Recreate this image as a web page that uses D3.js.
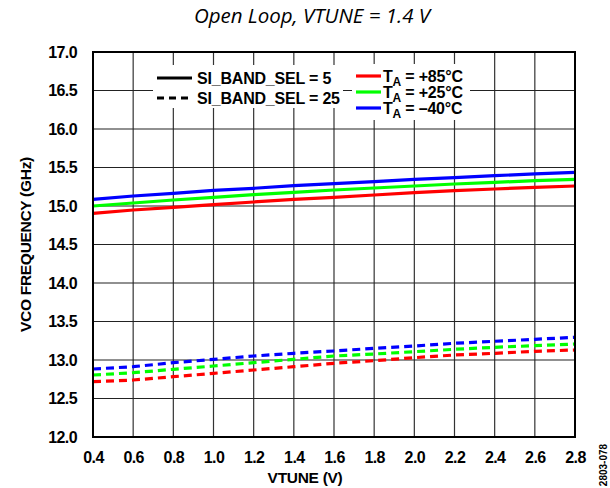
<!DOCTYPE html>
<html><head><meta charset="utf-8">
<script src="https://cdn.jsdelivr.net/npm/d3@7"></script>
<style>body{margin:0;background:#fff}svg{display:block}</style>
</head><body>
<script>
const vtune = [0.4,0.6,0.8,1.0,1.2,1.4,1.6,1.8,2.0,2.2,2.4,2.6,2.8];
const sel5_85  = [14.905,14.948,14.983,15.017,15.052,15.087,15.113,15.143,15.173,15.199,15.221,15.243,15.260];
const sel5_25  = [15.000,15.039,15.078,15.113,15.147,15.178,15.208,15.234,15.260,15.286,15.307,15.329,15.346];
const sel5_m40 = [15.087,15.130,15.165,15.204,15.230,15.264,15.290,15.316,15.346,15.368,15.394,15.416,15.437];
const sel25_85  = [12.718,12.740,12.783,12.827,12.870,12.913,12.957,12.991,13.030,13.065,13.087,13.113,13.130];
const sel25_25  = [12.805,12.835,12.879,12.922,12.965,13.009,13.052,13.078,13.108,13.139,13.165,13.186,13.208];
const sel25_m40 = [12.883,12.913,12.965,13.009,13.052,13.087,13.117,13.152,13.182,13.217,13.243,13.269,13.295];
const xTicks = [0.4,0.6,0.8,1.0,1.2,1.4,1.6,1.8,2.0,2.2,2.4,2.6,2.8];
const yTicks = [12.0,12.5,13.0,13.5,14.0,14.5,15.0,15.5,16.0,16.5,17.0];
const tempLabels = ["+85°C","+25°C","\u201340°C"];
const tempColors = ["#ff0000","#00ff00","#0000ff"];
const selLabels = ["SI_BAND_SEL = 5","SI_BAND_SEL = 25"];

const W=610,H=488;
const m={l:93,r:575,t:52,b:437};
const svg=d3.select("body").append("svg").attr("width",W).attr("height",H);
const x=d3.scaleLinear().domain([0.4,2.8]).range([m.l,m.r]);
const y=d3.scaleLinear().domain([12,17]).range([m.b,m.t]);

// title
svg.append("text").attr("x",312).attr("y",23).attr("text-anchor","middle")
  .attr("font-family","Open Sans, sans-serif").attr("font-style","italic").attr("font-size",20.5)
  .text("Open Loop, VTUNE = 1.4 V");

// grid
const g=svg.append("g");
g.selectAll(".vg").data(xTicks).join("line").attr("x1",d=>x(d)).attr("x2",d=>x(d))
  .attr("y1",m.t).attr("y2",m.b).attr("stroke","#333").attr("stroke-width",1.2);
g.selectAll(".hg").data(yTicks).join("line").attr("y1",d=>y(d)).attr("y2",d=>y(d))
  .attr("x1",m.l).attr("x2",m.r).attr("stroke","#222").attr("stroke-width",1.2);

// axes labels via d3 axes
const fontB="Liberation Sans, Arial, sans-serif";
const xa=svg.append("g").attr("transform",`translate(0,${m.b})`)
  .call(d3.axisBottom(x).tickValues(xTicks).tickFormat(d3.format(".1f")).tickSize(0).tickPadding(15));
const ya=svg.append("g").attr("transform",`translate(${m.l},0)`)
  .call(d3.axisLeft(y).tickValues(yTicks).tickFormat(d3.format(".1f")).tickSize(0).tickPadding(16));
[xa,ya].forEach(a=>{a.select(".domain").remove();
  a.selectAll("text").attr("font-family",fontB).attr("font-weight","bold").attr("font-size",16)
   .attr("letter-spacing",-0.6).attr("fill","#000");});

svg.append("text").attr("x",305).attr("y",483).attr("text-anchor","middle")
  .attr("font-family",fontB).attr("font-weight","bold").attr("font-size",15.5).attr("letter-spacing",-0.3).text("VTUNE (V)");
svg.append("text").attr("transform",`translate(31,${(m.t+m.b)/2}) rotate(-90)`).attr("text-anchor","middle")
  .attr("font-family",fontB).attr("font-weight","bold").attr("font-size",15.5).attr("letter-spacing",-0.3).text("VCO FREQUENCY (GHz)");
svg.append("text").attr("transform",`translate(607,465) rotate(-90)`).attr("text-anchor","middle")
  .attr("font-family",fontB).attr("font-weight","bold").attr("font-size",10).text("2803-078");

// legend backgrounds
svg.append("rect").attr("x",153).attr("y",65).attr("width",190).attr("height",43).attr("fill","#fff");
svg.append("rect").attr("x",352).attr("y",64).attr("width",118).attr("height",56).attr("fill","#fff");

// data lines
const line=d3.line().x((d,i)=>x(vtune[i])).y(d=>y(d));
const solid=[sel5_85,sel5_25,sel5_m40], dashed=[sel25_85,sel25_25,sel25_m40];
solid.forEach((s,i)=>svg.append("path").attr("d",line(s)).attr("fill","none")
  .attr("stroke",tempColors[i]).attr("stroke-width",3.2));
dashed.forEach((s,i)=>svg.append("path").attr("d",line(s)).attr("fill","none")
  .attr("stroke",tempColors[i]).attr("stroke-width",3.2).attr("stroke-dasharray","8,5"));

// frame
svg.append("rect").attr("x",m.l).attr("y",m.t).attr("width",m.r-m.l).attr("height",m.b-m.t)
  .attr("fill","none").attr("stroke","#000").attr("stroke-width",2);

// legend 1
selLabels.forEach((t,i)=>{
  const yy=78+i*20;
  svg.append("line").attr("x1",157).attr("x2",192).attr("y1",yy).attr("y2",yy)
    .attr("stroke","#000").attr("stroke-width",3.2).attr("stroke-dasharray",i?"7,5":null);
  svg.append("text").attr("x",197).attr("y",yy+6).attr("font-family",fontB).attr("font-weight","bold")
    .attr("font-size",16).attr("letter-spacing",-0.2).text(t);
});
// legend 2
tempLabels.forEach((t,i)=>{
  const yy=76+i*16;
  svg.append("line").attr("x1",356).attr("x2",381).attr("y1",yy).attr("y2",yy)
    .attr("stroke",tempColors[i]).attr("stroke-width",3.2);
  const tx=svg.append("text").attr("x",383).attr("y",yy+6).attr("font-family",fontB).attr("font-weight","bold")
    .attr("font-size",16).attr("letter-spacing",-0.2);
  tx.append("tspan").text("T");
  tx.append("tspan").attr("dy",4).attr("font-size",12).text("A");
  tx.append("tspan").attr("dy",-4).text(" = "+t);
});
</script>
</body></html>
